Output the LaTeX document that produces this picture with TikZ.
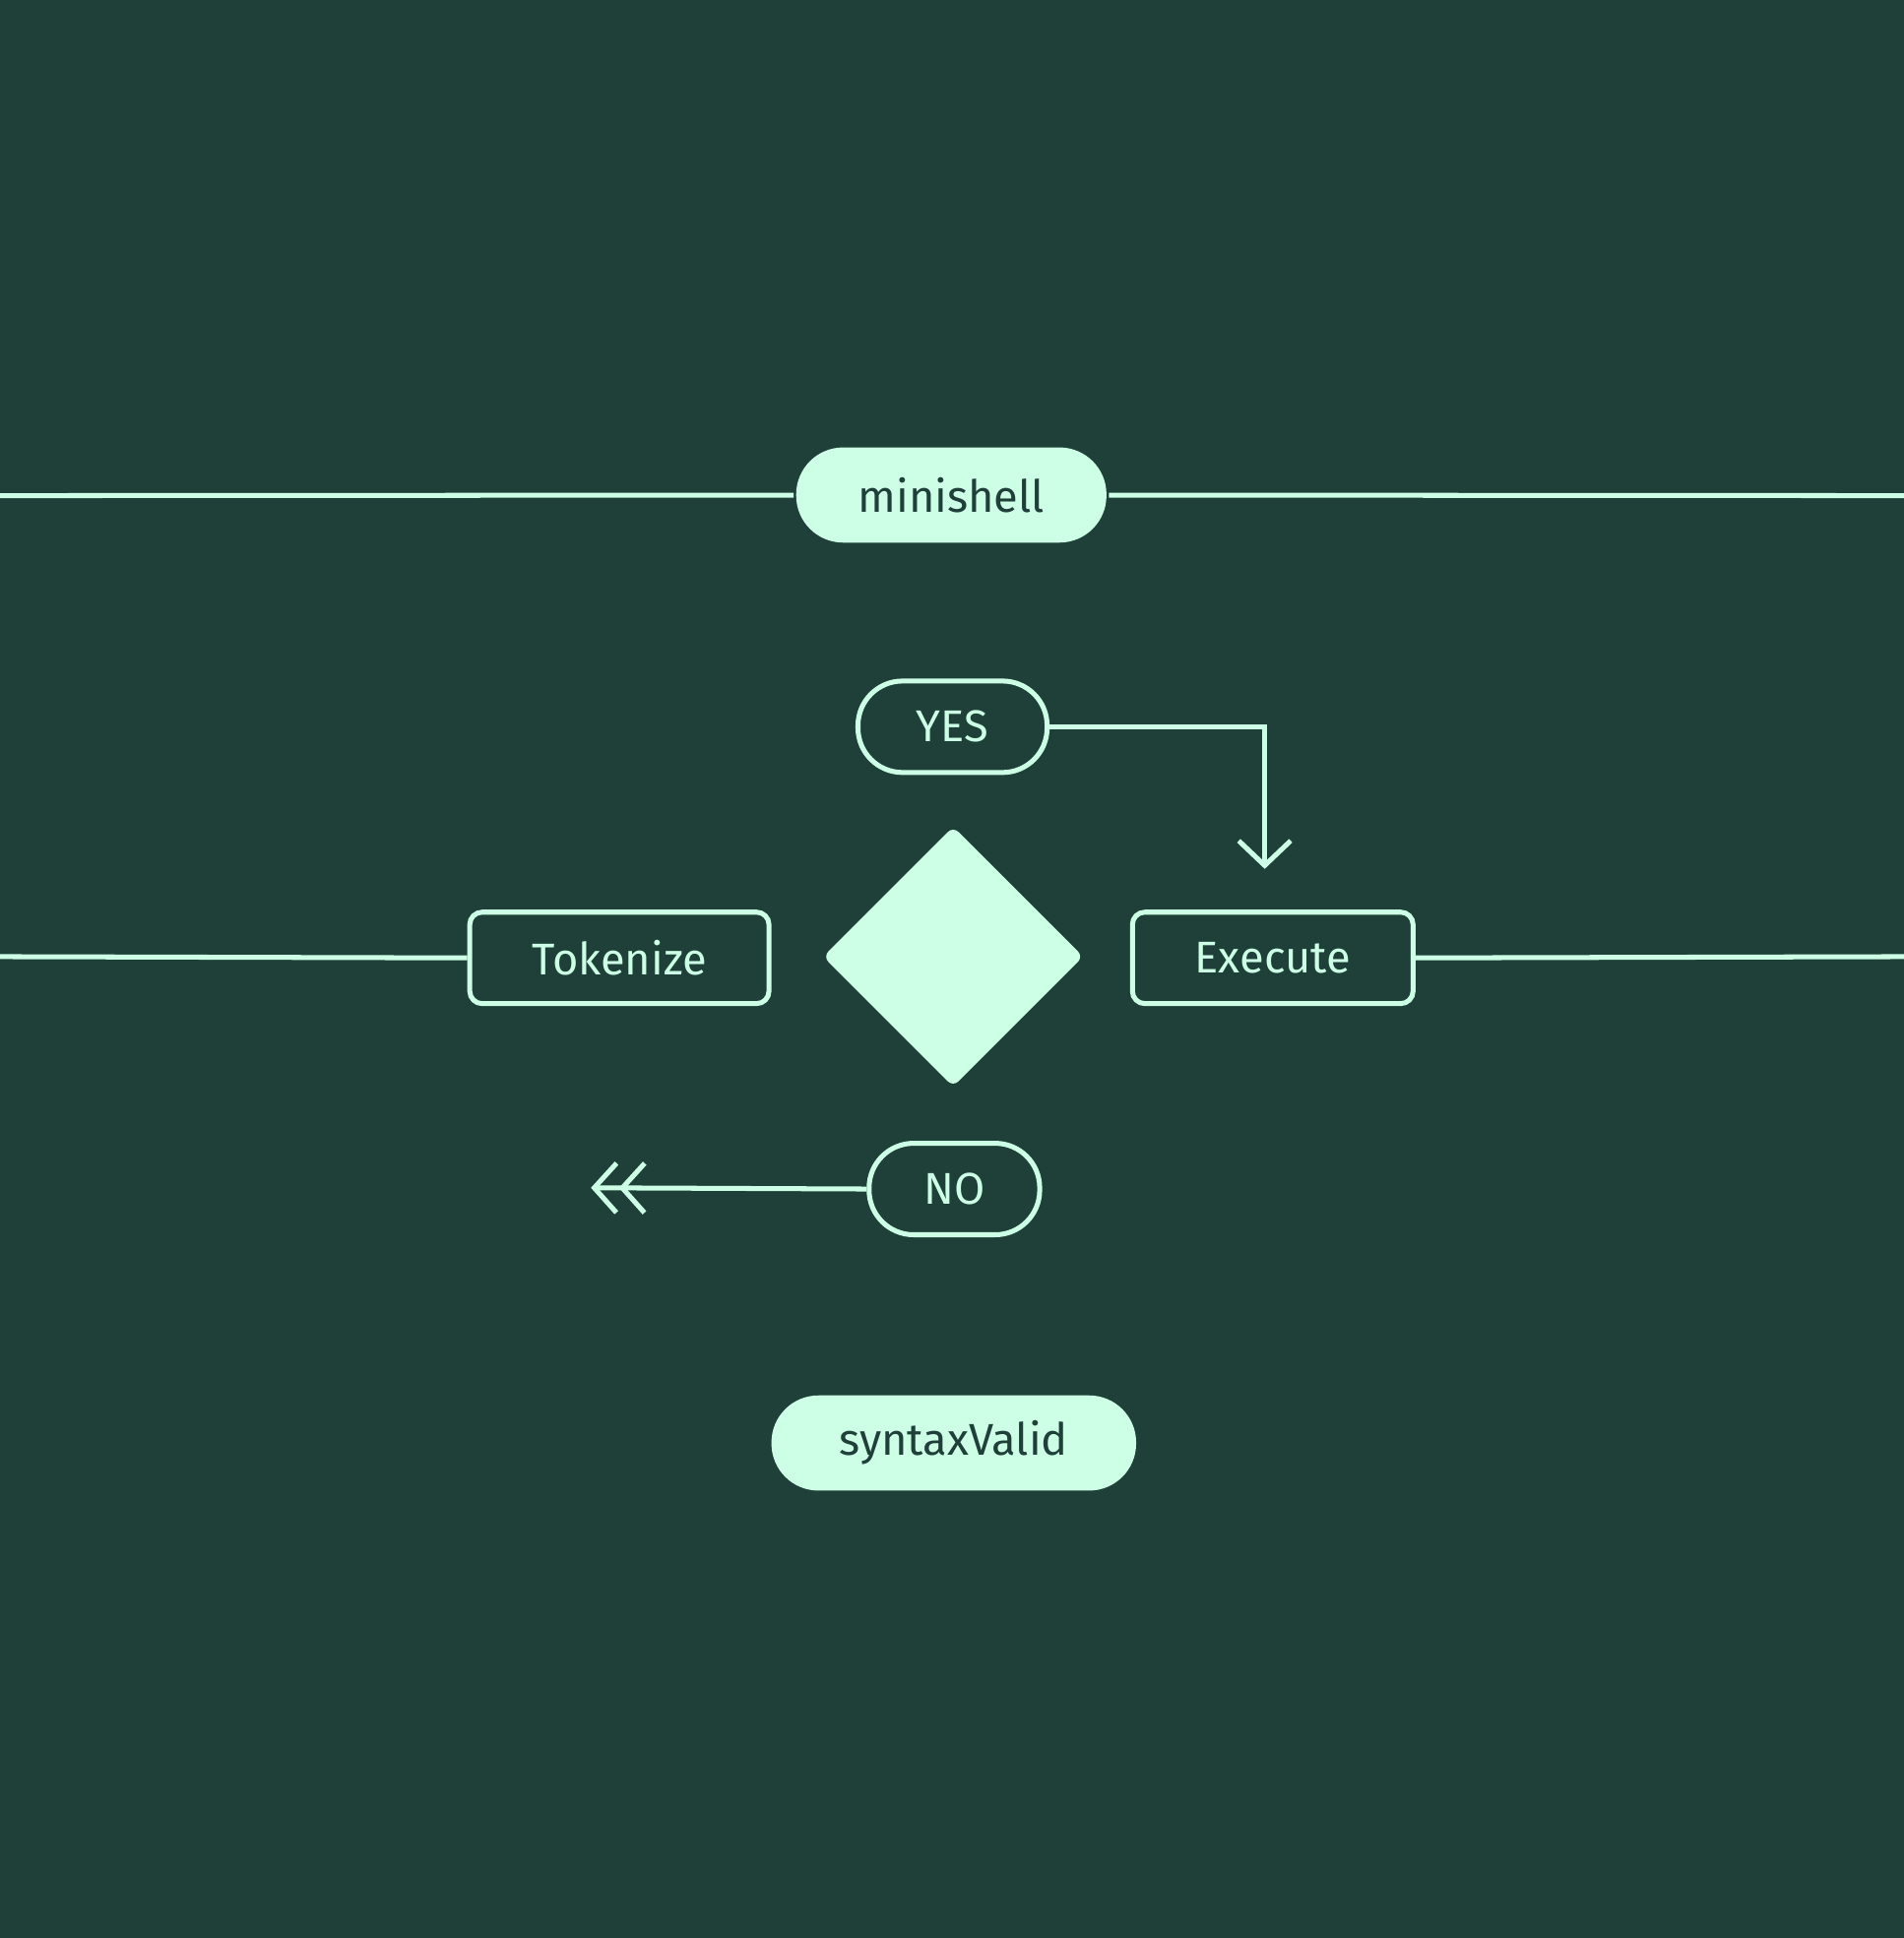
\documentclass[tikz,border=0pt]{standalone}
\usepackage{fontspec}
\setmainfont{Fira Sans}
\usetikzlibrary{arrows.meta,shapes.geometric}
\definecolor{bg}{HTML}{1F4039}
\definecolor{mint}{HTML}{CCFFE6}
\begin{document}
\begin{tikzpicture}[x=1pt,y=-1pt,line width=4pt,
  txt/.style={font=\fontsize{36}{40}\selectfont},
  fpill/.style={txt,fill=mint,text=bg,rounded corners=38pt,inner sep=0pt,minimum height=77pt},
  opill/.style={txt,draw=mint,text=mint,rounded corners=36pt,inner sep=0pt,minimum height=74pt},
  box/.style={txt,draw=mint,text=mint,rounded corners=10pt,inner sep=0pt,minimum height=74pt},
  ln/.style={draw=mint}]
\fill[bg] (0,0) rectangle (1540,1568);
\useasboundingbox (0,0) rectangle (1540,1568);
\node[fpill,minimum width=251pt] (mini) at (769.5,400.5) {minishell};
\coordinate (ml) at (0,401); \coordinate (mr) at (1540,401);
\draw[ln] (ml) -- (mini); \draw[ln] (mini) -- (mr);
\node[opill,minimum width=153pt] (yes) at (770.5,588) {YES};
\node[diamond,fill=mint,rounded corners=6pt,minimum width=212pt,minimum height=212pt,inner sep=0pt] (dia) at (771,774) {};
\node[box,minimum width=242pt] (tok) at (501,775) {Tokenize};
\node[box,minimum width=227pt] (exe) at (1029.5,775) {Execute};
\coordinate (tl) at (0,774); \coordinate (er) at (1540,774);
\draw[ln] (tl) -- (tok.west); \draw[ln] (exe.east) -- (er);
\coordinate (ya) at (1023,703);
\draw[ln,-{Straight Barb[length=20pt,width=42pt,line width=4pt]}] (yes.east) -| (ya);
\node[opill,minimum width=138pt] (no) at (772,962) {NO};
\coordinate (na) at (478,961);
\draw[ln,-{Straight Barb[length=18pt,width=40pt]Straight Barb[length=18pt,width=40pt]}] (no.west) -- (na);
\node[fpill,minimum width=295pt] (syn) at (771.5,1167.5) {syntaxValid};
\end{tikzpicture}
\end{document}
